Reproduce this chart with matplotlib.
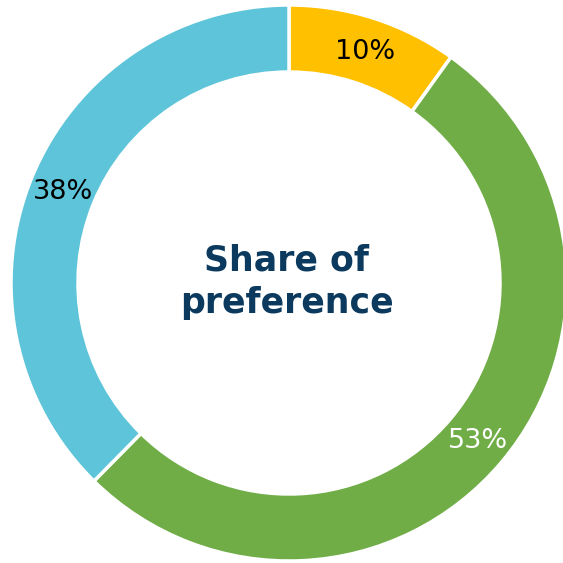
import matplotlib.pyplot as plt

# Share of preference by segment (clockwise from 12 o'clock)
labels = ["10%", "53%", "38%"]
shares = [10, 53, 38]
colors = ["#FFC000", "#70AD47", "#5EC4D9"]
label_colors = ["#000000", "#FFFFFF", "#000000"]

fig = plt.figure(figsize=(5.63, 5.63), dpi=100)
ax = fig.add_axes([0, 0, 1, 1])

cx, cy = 289, 280
outer = 278
ring = 67

wedges, _ = ax.pie(shares, colors=colors, startangle=90, counterclock=False,
                   center=(cx, cy), radius=outer,
                   wedgeprops=dict(width=ring, edgecolor="white", linewidth=2.5))

# label positions along the ring, in pixel space
label_pos = [(365, 563 - 52), (478, 563 - 441), (63, 563 - 192)]
for (x, y), text, c in zip(label_pos, labels, label_colors):
    ax.text(x, y, text, ha="center", va="center", fontsize=19.5,
            family="DejaVu Sans", color=c)

ax.text(cx - 2, cy + 1, "Share of\npreference", ha="center", va="center",
        fontsize=25, fontweight="bold", family="DejaVu Sans", color="#0B3A5E",
        linespacing=1.3)

ax.set_xlim(0, 563)
ax.set_ylim(0, 563)
ax.set_aspect("equal")
ax.axis("off")

fig.savefig("out.png", dpi=100, facecolor="white")
